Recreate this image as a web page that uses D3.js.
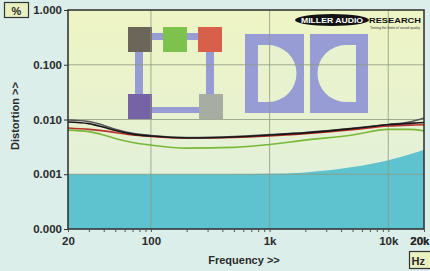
<!DOCTYPE html>
<html lang="en">
<head>
  <meta charset="UTF-8">
  <title>Distortion vs Frequency</title>
  <style>
    body { margin: 0; background: #dbeeea; }
    svg { display: block; font-family: "Liberation Sans", Arial, sans-serif; }
  </style>
</head>
<body>
  <svg id="chart"></svg>

  <script src="https://cdn.jsdelivr.net/npm/d3@7"></script>
  <script>
    var freqs = [20, 30, 40, 50, 70, 100, 200, 500, 1000, 2000, 5000, 10000, 15000, 20000];

    // distortion (%) per channel
    var blackVals = [0.0090, 0.0084, 0.0072, 0.0063, 0.0054, 0.0050, 0.0046, 0.0048, 0.0052, 0.0057, 0.0068, 0.0080, 0.0085, 0.0088];
    var greyVals  = [0.0098, 0.0092, 0.0078, 0.0066, 0.0056, 0.0051, 0.0047, 0.0049, 0.0053, 0.0058, 0.0069, 0.0081, 0.0090, 0.0107];
    var redVals   = [0.0070, 0.0066, 0.0062, 0.0058, 0.0052, 0.0049, 0.0046, 0.0047, 0.0050, 0.0055, 0.0065, 0.0076, 0.0079, 0.0080];
    var greenVals = [0.0064, 0.0060, 0.0052, 0.0045, 0.0038, 0.0034, 0.0030, 0.0031, 0.0035, 0.0042, 0.0052, 0.0066, 0.0066, 0.0062];

    // noise floor (filled)
    var noiseVals = [0.0010, 0.0010, 0.0010, 0.0010, 0.0010, 0.0010, 0.0010, 0.0010, 0.00102, 0.00108, 0.00135, 0.0018, 0.0023, 0.0028];

    var yTicks = [1, 0.1, 0.01, 0.001, 0.0001];
    var yTickLabels = ["1.000", "0.100", "0.010", "0.001", "0.000"];
    var xLabelTicks = [20, 100, 1000, 10000, 20000];
    var xTickLabels = ["20", "100", "1k", "10k", "20k"];

    var W = 430, H = 271;
    var margin = { top: 10, right: 6, bottom: 42, left: 68 };
    var width = W - margin.left - margin.right;
    var height = H - margin.top - margin.bottom;

    var svg = d3.select("#chart").attr("width", W).attr("height", H);

    var x = d3.scaleLog().domain([20, 20000]).range([0, width]);
    var y = d3.scaleLog().domain([0.0001, 1]).range([height, 0]);

    var defs = svg.append("defs");
    var grad = defs.append("linearGradient").attr("id", "bg")
      .attr("x1", 0).attr("y1", 0).attr("x2", 0).attr("y2", 1);
    grad.append("stop").attr("offset", "0%").attr("stop-color", "#eef4c4");
    grad.append("stop").attr("offset", "45%").attr("stop-color", "#e8f2ce");
    grad.append("stop").attr("offset", "100%").attr("stop-color", "#dff0e6");
    defs.append("clipPath").attr("id", "plotclip")
      .append("rect").attr("width", width).attr("height", height);

    var g = svg.append("g")
      .attr("transform", "translate(" + margin.left + "," + margin.top + ")");

    g.append("rect").attr("width", width).attr("height", height).attr("fill", "url(#bg)");

    /* logos in the background */
    var logo = g.append("g").attr("clip-path", "url(#plotclip)");

    // squares logo
    var sq = logo.append("g").attr("transform", "translate(60,17)");
    var lav = "#979dd4";
    sq.append("rect").attr("x", 20).attr("y", 6).attr("width", 60).attr("height", 7).attr("fill", lav);
    sq.append("rect").attr("x", 7).attr("y", 20).attr("width", 8).attr("height", 70).attr("fill", lav);
    sq.append("rect").attr("x", 78).attr("y", 20).attr("width", 8).attr("height", 70).attr("fill", lav);
    sq.append("rect").attr("x", 20).attr("y", 80).attr("width", 60).attr("height", 6).attr("fill", lav);
    [["#6b6659", 0, 0], ["#7cc24c", 35, 0], ["#d8604a", 70, 0], ["#7663a6", 0, 67], ["#a8ada4", 71, 67]]
      .forEach(function (s) {
        sq.append("rect").attr("x", s[1]).attr("y", s[2]).attr("width", 24).attr("height", 25).attr("fill", s[0]);
      });

    // double-D logo
    var dd = logo.append("g").attr("transform", "translate(177,24)");
    dd.append("rect").attr("x", 0).attr("y", 0).attr("width", 59).attr("height", 79).attr("fill", lav);
    dd.append("rect").attr("x", 65).attr("y", 0).attr("width", 58).attr("height", 79).attr("fill", lav);
    dd.append("path").attr("fill", "#e9f2cf")
      .attr("d", "M13,11 H23 A28.5,28.5 0 0 1 23,68 H13 Z");
    dd.append("path").attr("fill", "#e9f2cf")
      .attr("d", "M111,11 H101 A28.5,28.5 0 0 0 101,68 H111 Z");

    /* noise floor */
    var area = d3.area()
      .x(function (d) { return x(d[0]); })
      .y0(height)
      .y1(function (d) { return y(d[1]); })
      .curve(d3.curveMonotoneX);
    g.append("path")
      .datum(freqs.map(function (f, i) { return [f, noiseVals[i]]; }))
      .attr("fill", "#5ec2cf")
      .attr("d", area);

    /* grid */
    g.selectAll("line.vgrid").data([100, 1000, 10000]).enter().append("line")
      .attr("x1", function (d) { return x(d); }).attr("x2", function (d) { return x(d); })
      .attr("y1", 0).attr("y2", height)
      .attr("stroke", "#8c9a7e").attr("stroke-width", 0.8);
    g.selectAll("line.hgrid").data([0.1, 0.01, 0.001]).enter().append("line")
      .attr("x1", 0).attr("x2", width)
      .attr("y1", function (d) { return y(d); }).attr("y2", function (d) { return y(d); })
      .attr("stroke", "#8c9a7e").attr("stroke-width", 0.8);

    /* curves */
    var line = d3.line()
      .x(function (d) { return x(d[0]); })
      .y(function (d) { return y(d[1]); })
      .curve(d3.curveMonotoneX);
    var series = [
      { vals: greenVals, color: "#78b83a" },
      { vals: redVals, color: "#b8302a" },
      { vals: greyVals, color: "#55585c" },
      { vals: blackVals, color: "#1a1418" }
    ];
    series.forEach(function (s) {
      g.append("path")
        .datum(freqs.map(function (f, i) { return [f, s.vals[i]]; }))
        .attr("fill", "none")
        .attr("stroke", s.color)
        .attr("stroke-width", 1.6)
        .attr("d", line);
    });

    /* frame */
    g.append("rect").attr("width", width).attr("height", height)
      .attr("fill", "none").attr("stroke", "#2c2c2c").attr("stroke-width", 1.5);

    /* axes */
    var minorTicks = [];
    [10, 100, 1000, 10000].forEach(function (dec) {
      for (var k = 1; k < 10; k++) {
        var f = dec * k;
        if (f >= 20 && f <= 20000) minorTicks.push(f);
      }
    });
    minorTicks.push(20000);

    var xAxis = g.append("g")
      .attr("transform", "translate(0," + height + ")")
      .call(d3.axisBottom(x).tickValues(minorTicks).tickSize(3).tickPadding(5)
        .tickFormat(function (d) {
          var i = xLabelTicks.indexOf(d);
          return i >= 0 ? xTickLabels[i] : "";
        }));
    xAxis.select(".domain").remove();
    xAxis.selectAll("line").attr("stroke", "#555");
    xAxis.selectAll("text").attr("fill", "#2a2a2a")
      .style("font-size", "11.5px").style("font-weight", "bold");
    // keep the last label inside the picture
    xAxis.selectAll("text").filter(function (d) { return d === 20000; })
      .attr("text-anchor", "end").attr("dx", 5);

    var yAxis = g.append("g")
      .call(d3.axisLeft(y).tickValues(yTicks).tickSize(4).tickPadding(2)
        .tickFormat(function (d, i) { return yTickLabels[i]; }));
    yAxis.select(".domain").remove();
    yAxis.selectAll("line").attr("stroke", "#333");
    yAxis.selectAll("text").attr("fill", "#2a2a2a")
      .style("font-size", "11.5px").style("font-weight", "bold");

    /* titles */
    svg.append("text")
      .attr("transform", "translate(19," + (margin.top + 106) + ") rotate(-90)")
      .attr("text-anchor", "middle")
      .attr("fill", "#2a2a2a")
      .style("font-size", "11px").style("font-weight", "bold")
      .text("Distortion >>");

    svg.append("text")
      .attr("x", 244).attr("y", 264)
      .attr("text-anchor", "middle")
      .attr("fill", "#2a2a2a")
      .style("font-size", "11px").style("font-weight", "bold")
      .text("Frequency >>");

    // unit boxes
    svg.append("rect").attr("x", 4.5).attr("y", 2.5).attr("width", 24).attr("height", 15)
      .attr("fill", "#e9f0c0").attr("stroke", "#333").attr("stroke-width", 1.2);
    svg.append("text").attr("x", 16.5).attr("y", 14.5).attr("text-anchor", "middle")
      .attr("fill", "#2a2a2a").style("font-size", "11px").style("font-weight", "bold").text("%");

    svg.append("rect").attr("x", 409.5).attr("y", 251.5).attr("width", 24).attr("height", 17)
      .attr("fill", "#e9f0c0").attr("stroke", "#333").attr("stroke-width", 1.2);
    svg.append("text").attr("x", 411.5).attr("y", 264.5)
      .attr("fill", "#2a2a2a").style("font-size", "11px").style("font-weight", "bold").text("Hz");

    /* Miller Audio Research badge */
    var mar = svg.append("g").attr("transform", "translate(296,13)");
    mar.append("ellipse").attr("cx", 36).attr("cy", 7).attr("rx", 37).attr("ry", 6).attr("fill", "#111");
    mar.append("text").attr("x", 36).attr("y", 10).attr("text-anchor", "middle")
      .attr("fill", "#fff").style("font-size", "8px").style("font-weight", "bold")
      .attr("textLength", 62).attr("lengthAdjust", "spacingAndGlyphs")
      .text("MILLER AUDIO");
    mar.append("text").attr("x", 73).attr("y", 10)
      .attr("fill", "#111").style("font-size", "8px").style("font-weight", "bold")
      .attr("textLength", 52).attr("lengthAdjust", "spacingAndGlyphs")
      .text("RESEARCH");
    mar.append("text").attr("x", 74).attr("y", 15.5)
      .attr("fill", "#333").style("font-size", "3.5px")
      .attr("textLength", 50).attr("lengthAdjust", "spacingAndGlyphs")
      .text("Testing the limits of sound quality");
  </script>
</body>
</html>
